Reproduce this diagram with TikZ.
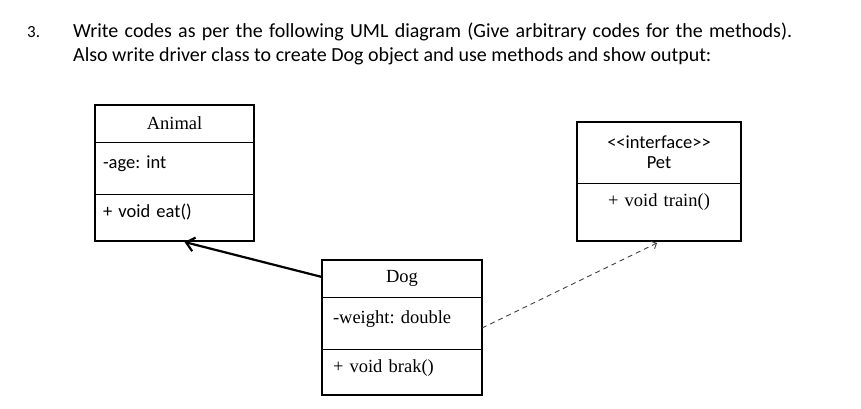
\documentclass[tikz,border=0pt]{standalone}
\usepackage{fontspec}
\setmainfont{Liberation Serif}
\newfontfamily\calibri{Carlito}
\usetikzlibrary{positioning}
\usetikzlibrary{arrows.meta}

\begin{document}
\frenchspacing
\begin{tikzpicture}[x=1pt, y=-1pt,
	classTitle/.style={draw, line width=0.8pt, inner sep=0pt, outer sep=0pt, align=center, font=\fontsize{18.5}{20}\selectfont},
	classPart/.style={draw, line width=0.8pt, outer sep=0pt, inner ysep=0pt, inner xsep=8pt, align=left, text height=10pt, text depth=10pt},
	classFrame/.style={line width=1.8pt},
	taskText/.style={anchor=base west, inner sep=0pt, font=\calibri\fontsize{20}{24}\selectfont}]
	\useasboundingbox (0,0) rectangle (861,408);
	% task text
	\node[taskText, font=\calibri\fontsize{17}{20}\selectfont] (num) at (27,37) {3.};
	\node[taskText] (lineOne) at (73,37) {\makebox[719pt][s]{Write codes as per the following UML diagram (Give arbitrary codes for the methods).}};
	\node[taskText] (lineTwo) at (73,61) {Also write driver class to create Dog object and use methods and show output:};
	% Animal
	\node[classTitle, anchor=north west, minimum width=159pt, minimum height=37pt] (animalName) at (95,105) {Animal};
	\node[classPart, text width=143pt, minimum height=52pt, font=\calibri\fontsize{18.5}{20}\selectfont] (animalAttr) [below=0pt of animalName] {-age: int};
	\node[classPart, text width=143pt, minimum height=47pt, font=\calibri\fontsize{18.5}{20}\selectfont] (animalOps) [below=0pt of animalAttr] {+ void eat()};
	\draw[classFrame] (animalName.north west) rectangle (animalOps.south east);
	% Pet
	\node[classTitle, anchor=north west, minimum width=164pt, minimum height=61pt, font=\calibri\fontsize{18.5}{20}\selectfont] (petName) at (577,122) {<\kern0pt<interface>\kern0pt>\\Pet};
	\node[classPart, text width=148pt, minimum height=58pt, align=center, text depth=22pt, font=\fontsize{18.5}{20}\selectfont] (petOps) [below=0pt of petName] {+ void train()};
	\draw[classFrame] (petName.north west) rectangle (petOps.south east);
	% Dog
	\node[classTitle, anchor=north west, minimum width=160pt, minimum height=37pt] (dogName) at (322,260) {Dog};
	\node[classPart, inner xsep=11pt, text width=138pt, minimum height=52pt, font=\fontsize{18.5}{20}\selectfont] (dogAttr) [below=0pt of dogName] {-weight: double};
	\node[classPart, inner xsep=11pt, text width=138pt, minimum height=46pt, font=\fontsize{18.5}{20}\selectfont] (dogOps) [below=0pt of dogAttr] {+ void brak()};
	\draw[classFrame] (dogName.north west) rectangle (dogOps.south east);
	% relations
	\draw[line width=2.2pt, -{Straight Barb[length=8pt,width=14pt]}] ([yshift=-17pt]dogName.north west) -- ([xshift=10pt,yshift=-1pt]animalOps.south);
	\draw[line width=0.9pt, black!75, dash pattern=on 5pt off 4pt, -{Straight Barb[length=4pt,width=8pt]}] ([yshift=-5pt]dogAttr.east) -- ([xshift=-2pt,yshift=-2pt]petOps.south);
\end{tikzpicture}
\end{document}
